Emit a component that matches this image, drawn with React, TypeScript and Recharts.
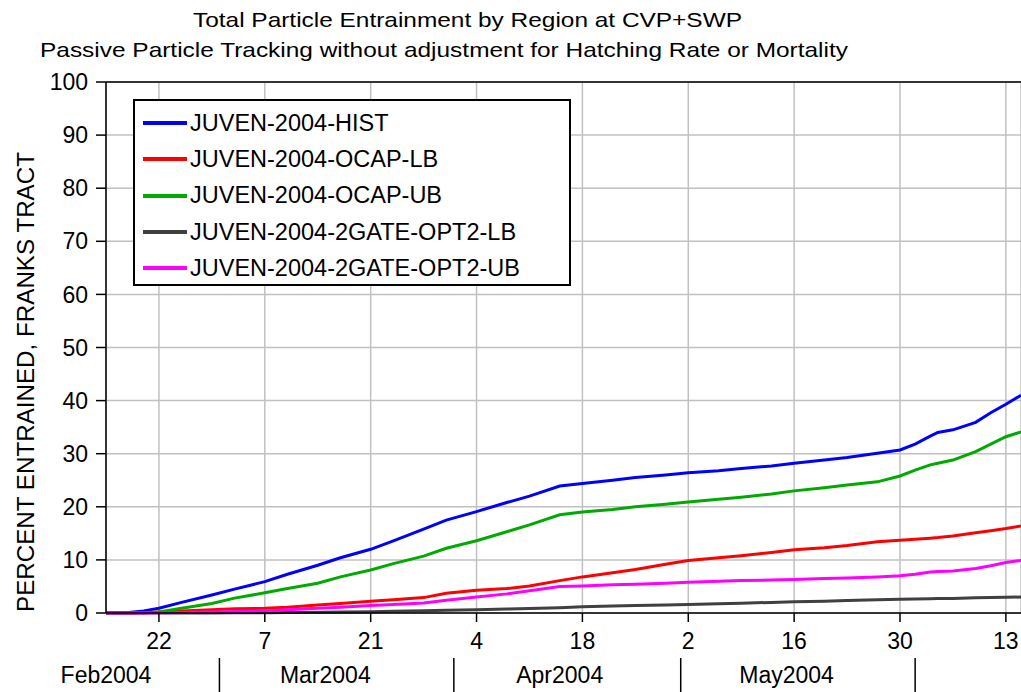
import React from 'react';
import { LineChart, Line, XAxis, YAxis, CartesianGrid, Legend, ReferenceLine } from 'recharts';

// days since 15 Feb 2004
const days = [0, 3, 5, 7, 10, 14, 17, 21, 24, 28, 31, 35, 38, 42, 45, 49, 53, 56, 60, 63, 67, 70, 74, 77, 81, 84, 88, 91, 95, 98, 102, 105, 107, 109, 110, 112, 115, 117, 119, 121];

const hist = [0, 0.1, 0.4, 0.9, 2.0, 3.4, 4.5, 5.9, 7.3, 9.0, 10.4, 12.0, 13.6, 15.8, 17.5, 19.1, 20.8, 22.0, 23.9, 24.4, 25.0, 25.5, 26.0, 26.4, 26.8, 27.2, 27.7, 28.2, 28.8, 29.3, 30.1, 30.7, 31.8, 33.3, 34.0, 34.5, 35.9, 37.7, 39.3, 41.0];
const ocapLb = [0, 0, 0.05, 0.2, 0.4, 0.6, 0.8, 0.9, 1.1, 1.5, 1.8, 2.2, 2.5, 2.9, 3.7, 4.3, 4.6, 5.1, 6.1, 6.8, 7.6, 8.2, 9.2, 9.9, 10.4, 10.8, 11.4, 11.9, 12.3, 12.7, 13.4, 13.7, 13.9, 14.1, 14.2, 14.5, 15.1, 15.5, 15.9, 16.4];
const ocapUb = [0, 0, 0.05, 0.2, 0.9, 1.8, 2.8, 3.8, 4.6, 5.6, 6.8, 8.1, 9.3, 10.7, 12.2, 13.6, 15.3, 16.6, 18.5, 19.0, 19.5, 20.0, 20.5, 20.9, 21.4, 21.8, 22.4, 23.0, 23.6, 24.1, 24.7, 25.8, 26.9, 27.9, 28.2, 28.8, 30.4, 31.8, 33.2, 34.1];
const gateLb = [0, 0, 0, 0, 0, 0.02, 0.03, 0.05, 0.08, 0.12, 0.18, 0.25, 0.32, 0.42, 0.5, 0.6, 0.75, 0.85, 1.0, 1.2, 1.3, 1.4, 1.5, 1.6, 1.75, 1.85, 2.0, 2.1, 2.2, 2.35, 2.5, 2.6, 2.65, 2.7, 2.72, 2.75, 2.85, 2.9, 2.95, 3.0];
const gateUb = [0, 0, 0, 0.05, 0.1, 0.2, 0.3, 0.4, 0.6, 0.9, 1.1, 1.4, 1.6, 1.9, 2.4, 3.0, 3.6, 4.2, 5.0, 5.1, 5.3, 5.4, 5.6, 5.8, 6.0, 6.1, 6.2, 6.3, 6.5, 6.6, 6.8, 7.0, 7.3, 7.7, 7.8, 7.9, 8.4, 8.9, 9.5, 9.9];

const seriesNames = ['JUVEN-2004-HIST', 'JUVEN-2004-OCAP-LB', 'JUVEN-2004-OCAP-UB', 'JUVEN-2004-2GATE-OPT2-LB', 'JUVEN-2004-2GATE-OPT2-UB'];
const seriesKeys = ['hist', 'ocapLb', 'ocapUb', 'gateLb', 'gateUb'];
const seriesColors = ['#0000ff', '#ff0000', '#00aa00', '#404040', '#ff00ff'];

const dayTicks = [7, 21, 35, 49, 63, 77, 91, 105, 119];
const dayTickLabels = ['22', '7', '21', '4', '18', '2', '16', '30', '13'];
const monthStarts = [15, 46, 76, 107];
const monthMid = [0, 29, 60, 90];
const monthNames = ['Feb2004', 'Mar2004', 'Apr2004', 'May2004'];
const yTicks = [0, 10, 20, 30, 40, 50, 60, 70, 80, 90, 100];

const data = days.map((d, i) => ({
  day: d,
  hist: hist[i],
  ocapLb: ocapLb[i],
  ocapUb: ocapUb[i],
  gateLb: gateLb[i],
  gateUb: gateUb[i],
}));

const FONT = '"Liberation Sans", Arial, sans-serif';

const MonthTick = (props: any) => {
  const { x, y, payload } = props;
  const v = payload.value;
  if (monthStarts.includes(v)) {
    return <line x1={x} x2={x} y1={y + 5} y2={y + 39} stroke="#000" strokeWidth={1.5} />;
  }
  const i = monthMid.indexOf(v);
  return (
    <text x={x} y={y + 30} textAnchor="middle" fontSize={23} fontFamily={FONT} fill="#000">
      {monthNames[i]}
    </text>
  );
};

const LegendBox = () => (
  <div
    style={{
      border: '2px solid #000',
      background: '#fff',
      width: 434,
      height: 179,
      boxSizing: 'content-box',
      paddingTop: 4,
      fontFamily: FONT,
    }}
  >
    {seriesNames.map((n, i) => (
      <div key={n} style={{ display: 'flex', alignItems: 'center', height: 36.3 }}>
        <span style={{ display: 'inline-block', width: 44, height: 4, background: seriesColors[i], marginLeft: 8 }} />
        <span style={{ fontSize: 23.5, marginLeft: 3, color: '#000' }}>{n}</span>
      </div>
    ))}
  </div>
);

export default function App() {
  return (
    <div style={{ position: 'absolute', left: 0, top: 0, width: 1021, height: 692, background: '#fff', fontFamily: FONT }}>
      <LineChart width={1021} height={692} data={data} margin={{ top: 82, right: 0, bottom: 0, left: 0 }}>
        <CartesianGrid stroke="#c0c0c0" strokeWidth={1.5} />
        <XAxis
          dataKey="day"
          type="number"
          domain={[0, 121]}
          ticks={dayTicks}
          tickFormatter={(v: number) => dayTickLabels[dayTicks.indexOf(v)]}
          height={40}
          tickSize={9}
          tickMargin={11}
          tick={{ fontSize: 23, fill: '#000', fontFamily: FONT }}
          stroke="#000"
          axisLine={{ stroke: '#000', strokeWidth: 1.5 }}
          tickLine={{ stroke: '#000', strokeWidth: 1.5 }}
        />
        <XAxis
          xAxisId="month"
          dataKey="day"
          type="number"
          domain={[0, 121]}
          ticks={[...monthMid, ...monthStarts]}
          height={39}
          tickSize={0}
          tickMargin={0}
          axisLine={false}
          tickLine={false}
          tick={<MonthTick />}
          interval={0}
        />
        <YAxis
          type="number"
          domain={[0, 100]}
          ticks={yTicks}
          width={106}
          tickSize={10}
          tickMargin={8}
          tick={{ fontSize: 23, fill: '#000', fontFamily: FONT }}
          axisLine={{ stroke: '#000', strokeWidth: 1.5 }}
          tickLine={{ stroke: '#000', strokeWidth: 1.5 }}
        />
        <ReferenceLine y={100} stroke="#000" strokeWidth={1.5} />
        <Legend
          layout="vertical"
          align="center"
          verticalAlign="middle"
          content={<LegendBox />}
          wrapperStyle={{ left: 133, top: 99, width: 438, height: 183 }}
        />
        {seriesKeys.map((k, i) => (
          <Line
            key={k}
            dataKey={k}
            name={seriesNames[i]}
            stroke={seriesColors[i]}
            strokeWidth={3}
            dot={false}
            type="linear"
            isAnimationActive={false}
          />
        ))}
      </LineChart>
      <svg width={1021} height={692} style={{ position: 'absolute', left: 0, top: 0, pointerEvents: 'none' }}>
        <text x={193} y={27} fontSize={21} fontFamily={FONT} textLength={549} lengthAdjust="spacingAndGlyphs">
          Total Particle Entrainment by Region at CVP+SWP
        </text>
        <text x={40} y={57} fontSize={21} fontFamily={FONT} textLength={808} lengthAdjust="spacingAndGlyphs">
          Passive Particle Tracking without adjustment for Hatching Rate or Mortality
        </text>
        <text
          x={34}
          y={382}
          fontSize={24}
          fontFamily={FONT}
          textAnchor="middle"
          transform="rotate(-90, 34, 382)"
          textLength={460}
          lengthAdjust="spacingAndGlyphs"
        >
          PERCENT ENTRAINED, FRANKS TRACT
        </text>
      </svg>
    </div>
  );
}
